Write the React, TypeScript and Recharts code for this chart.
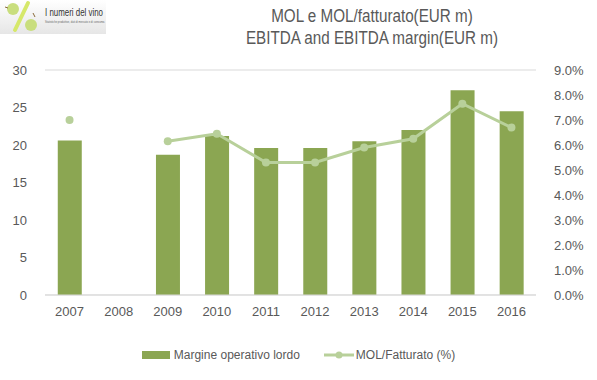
import React from 'react';
import { ComposedChart, Bar, Line, XAxis, YAxis, CartesianGrid, Legend } from 'recharts';

const years = ['2007', '2008', '2009', '2010', '2011', '2012', '2013', '2014', '2015', '2016'];
const molValues = [20.6, null, 18.7, 21.2, 19.6, 19.6, 20.5, 22.0, 27.3, 24.5];
const marginValues = [7.0, null, 6.15, 6.45, 5.3, 5.3, 5.9, 6.25, 7.65, 6.7];
const leftTicks = [0, 5, 10, 15, 20, 25, 30];
const rightTicks = [0, 1, 2, 3, 4, 5, 6, 7, 8, 9];

const BAR_COLOR = '#8BA652';
const LINE_COLOR = '#B8D09A';
const TEXT_COLOR = '#595959';
const FONT = '"Liberation Sans", Arial, sans-serif';

const data = years.map((year, i) => ({
    year,
    mol: molValues[i],
    margin: marginValues[i],
}));

const Logo = () => (
    <svg width={150} height={34} style={{ position: 'absolute', left: 0, top: 0 }}>
        <defs>
            <linearGradient id="logoBg" x1="0" y1="0" x2="0" y2="1">
                <stop offset="0%" stopColor="#ffffff" />
                <stop offset="100%" stopColor="#e6e6e6" />
            </linearGradient>
        </defs>
        <rect x={0} y={0} width={106} height={34} fill="url(#logoBg)" />
        <line x1={28} y1={3} x2={15} y2={30} stroke="#d6e86a" strokeWidth={4} strokeLinecap="round" />
        <circle cx={13} cy={9} r={6} fill="#c9de7e" />
        <circle cx={31} cy={25} r={6} fill="#c9de7e" />
        <line x1={5} y1={7} x2={8} y2={8} stroke="#8a6a3a" strokeWidth={1} />
        <line x1={33} y1={13} x2={35} y2={17} stroke="#8a6a3a" strokeWidth={1} />
        <text x={45} y={16} fontSize={10} fill="#333" fontFamily={FONT} textLength={58} lengthAdjust="spacingAndGlyphs">
            I numeri del vino
        </text>
        <text x={45} y={23} fontSize={3.5} fill="#666" fontFamily={FONT} textLength={60} lengthAdjust="spacingAndGlyphs">
            Statistiche produttive, dati di mercato e di consumo.
        </text>
    </svg>
);

const renderLegend = () => (
    <div style={{ paddingTop: 25, display: 'flex', justifyContent: 'center', alignItems: 'center', fontFamily: FONT, fontSize: 12, color: TEXT_COLOR }}>
        <div style={{ display: 'flex', alignItems: 'center', marginRight: 24 }}>
            <div style={{ width: 28, height: 8, background: BAR_COLOR, marginRight: 4 }} />
            <span>Margine operativo lordo</span>
        </div>
        <div style={{ display: 'flex', alignItems: 'center' }}>
            <svg width={30} height={10} style={{ marginRight: 2 }}>
                <line x1={0} y1={5} x2={30} y2={5} stroke={LINE_COLOR} strokeWidth={3} />
                <circle cx={15} cy={5} r={3.5} fill={LINE_COLOR} />
            </svg>
            <span>MOL/Fatturato (%)</span>
        </div>
    </div>
);

export default function App() {
    return (
        <div style={{ position: 'absolute', left: 0, top: 0, width: 597, height: 380, background: '#fff' }}>
            <Logo />
            <div style={{ position: 'absolute', left: 172, width: 400, top: 5, textAlign: 'center', fontFamily: FONT, fontSize: 17.5, color: TEXT_COLOR, lineHeight: '22px', transform: 'scaleX(0.87)' }}>
                <div>MOL e MOL/fatturato(EUR m)</div>
                <div>EBITDA and EBITDA margin(EUR m)</div>
            </div>
            <ComposedChart
                width={597}
                height={380}
                data={data}
                margin={{ top: 70, right: 0, bottom: 0, left: 0 }}
                barCategoryGap="26%"
            >
                <CartesianGrid vertical={false} stroke="#D9D9D9" />
                <XAxis
                    dataKey="year"
                    axisLine={{ stroke: '#D9D9D9' }}
                    tickLine={false}
                    tick={{ fill: TEXT_COLOR, fontSize: 13, fontFamily: FONT }}
                    height={28}
                    tickMargin={6}
                />
                <YAxis
                    yAxisId="left"
                    domain={[0, 30]}
                    ticks={leftTicks}
                    axisLine={false}
                    tickLine={false}
                    width={45}
                    tickMargin={12}
                    tick={{ fill: TEXT_COLOR, fontSize: 13, fontFamily: FONT }}
                />
                <YAxis
                    yAxisId="right"
                    orientation="right"
                    domain={[0, 9]}
                    ticks={rightTicks}
                    axisLine={false}
                    tickLine={false}
                    width={61}
                    tickMargin={12}
                    tickFormatter={(v: number) => `${v.toFixed(1)}%`}
                    tick={{ fill: TEXT_COLOR, fontSize: 13, fontFamily: FONT }}
                />
                <Bar yAxisId="left" dataKey="mol" name="Margine operativo lordo" fill={BAR_COLOR} isAnimationActive={false} />
                <Line
                    yAxisId="right"
                    dataKey="margin"
                    name="MOL/Fatturato (%)"
                    stroke={LINE_COLOR}
                    strokeWidth={3}
                    dot={{ r: 4, fill: LINE_COLOR, stroke: LINE_COLOR, strokeWidth: 0 }}
                    activeDot={false}
                    isAnimationActive={false}
                />
                <Legend verticalAlign="bottom" height={57} content={renderLegend} />
            </ComposedChart>
        </div>
    );
}
